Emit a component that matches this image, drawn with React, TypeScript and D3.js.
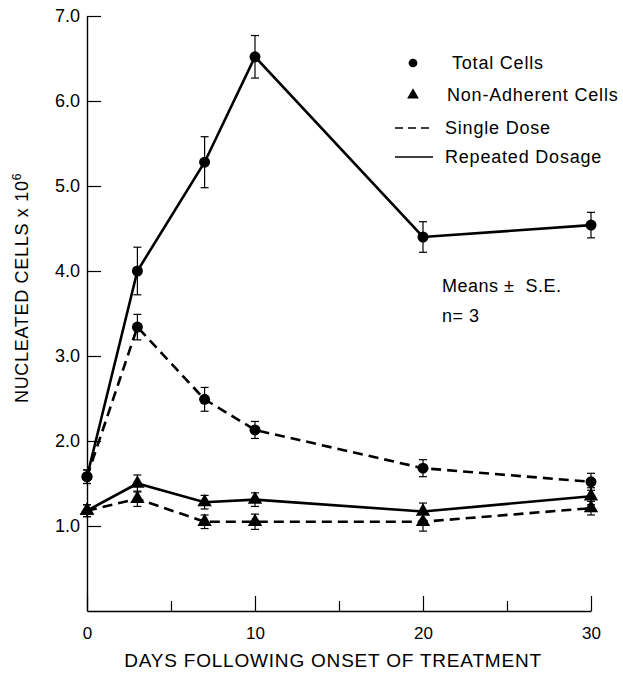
import React, { useEffect, useRef } from 'react'
import { select, scaleLinear, axisLeft, axisBottom, line, symbol, symbolCircle, symbolTriangle, format } from 'd3'

// data
const days = [0, 3, 7, 10, 20, 30]
const totalRepeated = [1.58, 4.0, 5.28, 6.52, 4.4, 4.54]
const totalRepeatedSE = [0.08, 0.28, 0.3, 0.25, 0.18, 0.15]
const totalSingle = [1.58, 3.34, 2.49, 2.13, 1.68, 1.52]
const totalSingleSE = [0.08, 0.15, 0.14, 0.1, 0.1, 0.1]
const nonAdhRepeated = [1.18, 1.5, 1.28, 1.31, 1.17, 1.35]
const nonAdhRepeatedSE = [0.07, 0.1, 0.08, 0.08, 0.1, 0.1]
const nonAdhSingle = [1.18, 1.32, 1.05, 1.05, 1.05, 1.21]
const nonAdhSingleSE = [0.07, 0.09, 0.08, 0.09, 0.11, 0.08]

const yTicks = [1, 2, 3, 4, 5, 6, 7]
const xMajorTicks = [0, 10, 20, 30]
const xMinorTicks = [5, 15, 25]

const legendItems = ['Total Cells', 'Non-Adherent Cells', 'Single Dose', 'Repeated Dosage']
const noteLines = ['Means \u00b1  S.E.', 'n= 3']

const FONT = '"Liberation Sans", Arial, Helvetica, sans-serif'

function App() {
  const svgRef = useRef(null)

  const width = 623,
    height = 673

  useEffect(() => {
    const svg = select(svgRef.current)
    svg.selectAll('*').remove()

    const xScale = scaleLinear().domain([0, 30]).range([87, 591])
    const yScale = scaleLinear().domain([0, 7]).range([611, 16])

    // y axis
    const yAxis = svg.append('g')
      .attr('transform', `translate(${xScale(0)}, 0)`)
      .call(axisLeft(yScale).tickValues(yTicks).tickSizeInner(-14).tickSizeOuter(0).tickPadding(7).tickFormat(format('.1f')))
    yAxis.select('.domain').attr('stroke-width', 1.4)
    yAxis.selectAll('line').attr('stroke-width', 1.2)
    yAxis.selectAll('text').style('font-family', FONT).style('font-size', '18px').attr('fill', '#000')

    // x axis
    const xAxis = svg.append('g')
      .attr('transform', `translate(0, ${yScale(0)})`)
      .call(axisBottom(xScale).tickValues(xMajorTicks).tickSizeInner(-15).tickSizeOuter(0).tickPadding(16).tickFormat(format('d')))
    xAxis.select('.domain').attr('stroke-width', 1.4)
    xAxis.selectAll('line').attr('stroke-width', 1.2)
    xAxis.selectAll('text').style('font-family', FONT).style('font-size', '17px').attr('fill', '#000')

    const xMinor = svg.append('g')
      .attr('transform', `translate(0, ${yScale(0)})`)
      .call(axisBottom(xScale).tickValues(xMinorTicks).tickSizeInner(-10).tickSizeOuter(0).tickFormat(() => ''))
    xMinor.select('.domain').remove()
    xMinor.selectAll('line').attr('stroke-width', 1.2)

    // axis titles
    svg.append('text')
      .attr('x', 333)
      .attr('y', 667)
      .attr('text-anchor', 'middle')
      .style('font-family', FONT)
      .style('font-size', '19px')
      .style('letter-spacing', '0.8px')
      .text('DAYS FOLLOWING ONSET OF TREATMENT')

    const yTitle = svg.append('text')
      .attr('transform', 'translate(28, 288) rotate(-90)')
      .attr('text-anchor', 'middle')
      .style('font-family', FONT)
      .style('font-size', '18px')
      .style('letter-spacing', '0.7px')
    yTitle.append('tspan').text('NUCLEATED CELLS x 10')
    yTitle.append('tspan').attr('dy', -7).style('font-size', '12px').text('6')

    const series = [
      { values: totalSingle, se: totalSingleSE, dashed: true, shape: symbolCircle },
      { values: nonAdhSingle, se: nonAdhSingleSE, dashed: true, shape: symbolTriangle },
      { values: totalRepeated, se: totalRepeatedSE, dashed: false, shape: symbolCircle },
      { values: nonAdhRepeated, se: nonAdhRepeatedSE, dashed: false, shape: symbolTriangle },
    ]

    const lineGenerator = line()
      .x(d => xScale(d[0]))
      .y(d => yScale(d[1]))

    series.forEach(s => {
      const pts = days.map((d, i) => [d, s.values[i], s.se[i]])

      svg.append('path')
        .datum(pts)
        .attr('fill', 'none')
        .attr('stroke', '#000')
        .attr('stroke-width', 2.6)
        .attr('stroke-dasharray', s.dashed ? '10,6' : null)
        .attr('d', lineGenerator)

      const eb = svg.append('g').attr('stroke', '#000').attr('stroke-width', 1.2)
      pts.forEach(p => {
        const cx = xScale(p[0])
        const top = yScale(p[1] + p[2])
        const bot = yScale(p[1] - p[2])
        eb.append('line').attr('x1', cx).attr('x2', cx).attr('y1', top).attr('y2', bot)
        eb.append('line').attr('x1', cx - 4).attr('x2', cx + 4).attr('y1', top).attr('y2', top)
        eb.append('line').attr('x1', cx - 4).attr('x2', cx + 4).attr('y1', bot).attr('y2', bot)
      })

      svg.append('g')
        .selectAll('path')
        .data(pts)
        .join('path')
        .attr('transform', p => `translate(${xScale(p[0])}, ${yScale(p[1])})`)
        .attr('d', symbol().type(s.shape).size(s.shape === symbolCircle ? 95 : 90))
        .attr('fill', '#000')
    })

    // legend
    const legend = svg.append('g').style('font-family', FONT).style('font-size', '18px')
    const rows = [63, 95, 128, 157]
    legend.append('path').attr('transform', `translate(413, ${rows[0]})`).attr('d', symbol().type(symbolCircle).size(60)).attr('fill', '#000')
    legend.append('path').attr('transform', `translate(413, ${rows[1]})`).attr('d', symbol().type(symbolTriangle).size(60)).attr('fill', '#000')
    legend.append('line').attr('x1', 395).attr('x2', 433).attr('y1', rows[2]).attr('y2', rows[2])
      .attr('stroke', '#000').attr('stroke-width', 1.4).attr('stroke-dasharray', '8,5')
    legend.append('line').attr('x1', 395).attr('x2', 433).attr('y1', rows[3]).attr('y2', rows[3])
      .attr('stroke', '#000').attr('stroke-width', 1.4)
    const textX = [452, 447, 445, 445]
    legendItems.forEach((t, i) => {
      legend.append('text')
        .attr('x', textX[i])
        .attr('y', rows[i] + 6)
        .style('letter-spacing', '0.8px')
        .text(t)
    })

    // note
    noteLines.forEach((t, i) => {
      svg.append('text')
        .attr('x', 442)
        .attr('y', 292 + i * 30)
        .style('font-family', FONT)
        .style('font-size', '18px')
        .style('letter-spacing', '0.5px')
        .style('white-space', 'pre')
        .text(t)
    })
  }, [])

  return (
    <div className='wrapper'>
      <svg ref={svgRef} width={width} height={height} style={{ position: 'absolute', left: 0, top: 0, background: '#fff' }}></svg>
    </div>
  )
}

export default App
